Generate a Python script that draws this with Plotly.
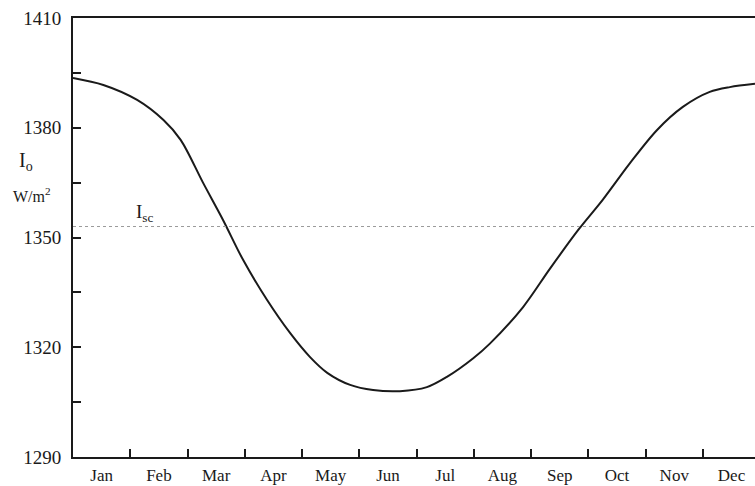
import plotly.graph_objects as go

# Extraterrestrial solar irradiance through the year (months from 1 Jan)
month_pos = [0.0, 0.53, 1.12, 1.58, 1.88, 2.27, 2.62, 2.97, 3.39, 3.79, 4.14,
             4.44, 4.84, 5.24, 5.71, 6.18, 6.53, 6.99, 7.28, 7.86, 8.33, 8.83,
             9.25, 9.73, 10.20, 10.65, 11.12, 11.47, 11.91]
irradiance = [1393.6, 1391.7, 1387.6, 1382.1, 1376.7, 1365.0, 1354.8, 1343.9,
              1332.9, 1323.9, 1317.3, 1313.0, 1309.7, 1308.3, 1308.0, 1309.1,
              1311.9, 1317.0, 1321.0, 1331.0, 1341.5, 1352.2, 1360.3, 1370.4,
              1379.4, 1385.7, 1389.8, 1391.1, 1392.0]

solar_constant = 1353

months = ["Jan", "Feb", "Mar", "Apr", "May", "Jun",
          "Jul", "Aug", "Sep", "Oct", "Nov", "Dec"]
month_centers = [i + 0.5 for i in range(12)]
month_bounds = list(range(1, 12))

y_major = [1290, 1320, 1350, 1380, 1410]
y_minor = [1305, 1335, 1365, 1395]

x_max = 11.91
ink = "#1a1a1a"
serif = "Liberation Serif, Times New Roman, serif"

fig = go.Figure()
fig.add_trace(go.Scatter(
    x=month_pos, y=irradiance, mode="lines",
    line=dict(color=ink, width=2, shape="spline", smoothing=0.9),
    hoverinfo="skip", showlegend=False,
))

# Solar constant reference line
fig.add_shape(type="line", xref="x", yref="y",
              x0=0, x1=x_max, y0=solar_constant, y1=solar_constant,
              line=dict(color="#9a9a9a", width=1, dash="dot"))

fig.add_annotation(x=1.07, y=solar_constant, xref="x", yref="y",
                   text="I<sub>sc</sub>", showarrow=False,
                   xanchor="left", yanchor="bottom", yshift=0,
                   font=dict(family=serif, size=19, color=ink))
fig.add_annotation(x=-0.082, y=0.672, xref="paper", yref="paper",
                   text="I<sub>o</sub>", showarrow=False,
                   xanchor="left", yanchor="middle",
                   font=dict(family=serif, size=20, color=ink))
fig.add_annotation(x=-0.091, y=0.597, xref="paper", yref="paper",
                   text="W/m<sup>2</sup>", showarrow=False,
                   xanchor="left", yanchor="middle",
                   font=dict(family=serif, size=16, color=ink))

fig.update_layout(
    width=755, height=486,
    margin=dict(l=73, r=0, t=18, b=29),
    paper_bgcolor="white", plot_bgcolor="white",
    font=dict(family=serif, color=ink),
    xaxis=dict(
        range=[0, x_max], showgrid=False, zeroline=False,
        showline=True, linecolor=ink, linewidth=2, mirror=True,
        tickmode="array", tickvals=month_centers, ticktext=months,
        ticks="", ticklabelstandoff=2,
        tickfont=dict(family=serif, size=17, color=ink),
        minor=dict(tickmode="array", tickvals=month_bounds,
                   ticks="inside", ticklen=8, tickwidth=1.5,
                   tickcolor=ink, showgrid=False),
    ),
    yaxis=dict(
        range=[1290, 1410], showgrid=False, zeroline=False,
        showline=True, linecolor=ink, linewidth=2,
        tickmode="array", tickvals=y_major,
        ticks="inside", ticklen=8, tickwidth=1.5, tickcolor=ink,
        ticklabelstandoff=6,
        tickfont=dict(family=serif, size=19, color=ink),
        minor=dict(tickmode="array", tickvals=y_minor,
                   ticks="inside", ticklen=8, tickwidth=1.5,
                   tickcolor=ink, showgrid=False),
    ),
)

fig.write_html("out.html")
